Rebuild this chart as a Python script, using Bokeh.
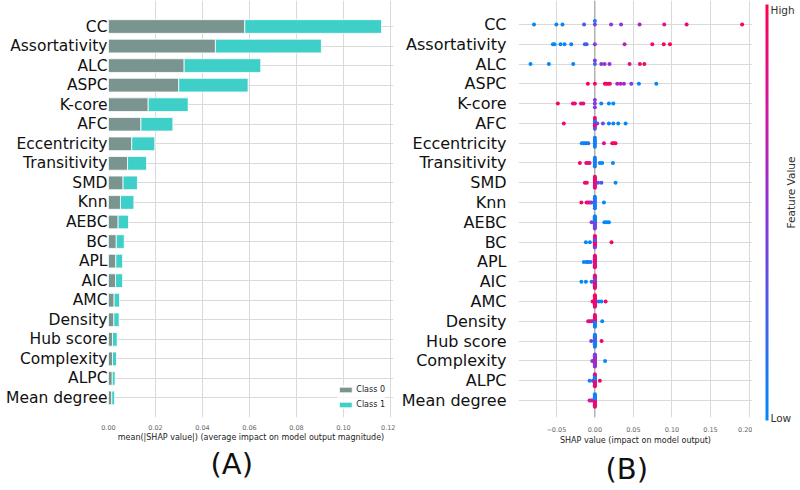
import numpy as np
from bokeh.plotting import figure
from bokeh.layouts import row
from bokeh.models import (ColumnDataSource, Range1d, FixedTicker, NumeralTickFormatter,
                          Span, Title, Label, LinearColorMapper)
from bokeh.embed import file_html
from bokeh.resources import INLINE

# ---------------- data ----------------
FEATURES = ["CC", "Assortativity", "ALC", "ASPC", "K-core", "AFC", "Eccentricity",
            "Transitivity", "SMD", "Knn", "AEBC", "BC", "APL", "AIC", "AMC", "Density",
            "Hub score", "Complexity", "ALPC", "Mean degree"]

CLASS0 = [0.0580, 0.0455, 0.0322, 0.0299, 0.0169, 0.0138, 0.0099, 0.0081, 0.0062, 0.0051,
          0.0041, 0.0033, 0.0031, 0.0030, 0.0024, 0.0023, 0.0017, 0.0017, 0.0016, 0.0014]
CLASS1 = [0.0582, 0.0451, 0.0326, 0.0295, 0.0170, 0.0136, 0.0098, 0.0081, 0.0061, 0.0057,
          0.0044, 0.0034, 0.0029, 0.0030, 0.0023, 0.0022, 0.0020, 0.0017, 0.0012, 0.0012]
CLASS_NAMES = ["Class 0", "Class 1"]

BAR_TICKS = [0.0, 0.02, 0.04, 0.06, 0.08, 0.10, 0.12]
SWARM_TICKS = [-0.05, 0.0, 0.05, 0.10, 0.15, 0.20]
SWARM_TICK_LABELS = ["\u22120.05", "0.00", "0.05", "0.10", "0.15", "0.20"]

# SHAP values (x) and normalised feature values (colour) for each feature
SHAP_CC = [-0.079, -0.050, -0.042, -0.014, 0.0, 0.0, 0.021, 0.034, 0.058, 0.090, 0.119, 0.191]
FV_CC = [0.00, 0.02, 0.04, 0.30, 0.45, 0.05, 0.50, 0.50, 0.60, 0.80, 0.90, 1.00]

SHAP_ASSORT = [-0.0545, -0.0524, -0.0446, -0.0394, -0.0307, -0.013, -0.0108, 0.0, 0.0385,
               0.0745, 0.0893, 0.0974]
FV_ASSORT = [0.0, 0.0, 0.02, 0.02, 0.05, 0.25, 0.25, 0.45, 0.65, 0.9, 0.95, 1.0]

SHAP_ALC = [-0.0835, -0.0597, -0.0281, 0.0, 0.0, 0.0083, 0.0126, 0.019, 0.045, 0.0584, 0.0641]
FV_ALC = [0.0, 0.0, 0.05, 0.2, 0.45, 0.5, 0.5, 0.5, 0.8, 0.9, 0.95]

SHAP_ASPC = [-0.0091, 0.0, 0.013, 0.0152, 0.0174, 0.0195, 0.029, 0.0333, 0.0377, 0.0472,
             0.0571, 0.0797]
FV_ASPC = [1.0, 0.95, 0.95, 0.95, 0.9, 0.9, 0.65, 0.6, 0.6, 0.45, 0.05, 0.0]

SHAP_KCORE = [-0.048, -0.0285, -0.026, -0.018, -0.015, 0.0, 0.0, 0.0, 0.0083, 0.0182, 0.0239]
FV_KCORE = [0.95, 0.9, 0.9, 0.85, 0.85, 0.45, 0.45, 0.45, 0.05, 0.0, 0.0]

SHAP_AFC = [-0.0403, 0.0, 0.0, 0.0, 0.0, 0.0, 0.0, 0.0, 0.003, 0.0104, 0.0182, 0.0239,
            0.0303, 0.0399]
FV_AFC = [0.9, 0.45, 0.1, 0.9, 0.1, 0.9, 0.95, 0.3, 0.5, 0.35, 0.05, 0.05, 0.0, 0.0]

SHAP_ECC = [-0.017, -0.015, -0.013, -0.011, -0.0085, 0.0, 0.0, 0.0, 0.0, 0.0, 0.0,
            0.0117, 0.0225, 0.0247, 0.0268]
FV_ECC = [0.0, 0.0, 0.05, 0.05, 0.1, 0.1, 0.05, 0.05, 0.1, 0.05, 0.05, 0.8, 0.9, 0.95, 0.95]

SHAP_TRANS = [-0.0195, -0.0112, -0.009, -0.0069, 0.0, 0.0, 0.0, 0.0, 0.0, 0.0,
              0.0065, 0.0095, 0.0234]
FV_TRANS = [0.95, 0.9, 0.9, 0.85, 0.05, 0.05, 0.1, 0.05, 0.05, 0.1, 0.05, 0.0, 0.0]

SHAP_SMD = [-0.013, -0.0105, 0.0, 0.0, 0.0, 0.0, 0.0, 0.0, 0.0, 0.0, 0.0, 0.0, 0.0, 0.0,
            0.0041, 0.0085, 0.0268]
FV_SMD = [0.9, 0.9, 0.9, 0.95, 0.9, 0.85, 0.95, 0.9, 0.6, 0.9, 0.95, 0.9, 0.85, 0.9,
          0.35, 0.3, 0.0]

SHAP_KNN = [-0.0175, -0.0108, -0.0087, -0.0065, -0.0045, 0.0, 0.0, 0.0, 0.0, 0.0, 0.0,
            0.0, 0.0, 0.0, 0.0117]
FV_KNN = [0.95, 0.9, 0.9, 0.85, 0.45, 0.05, 0.1, 0.05, 0.3, 0.05, 0.1, 0.05, 0.05, 0.1, 0.0]

SHAP_AEBC = [-0.0043, 0.0, 0.0, 0.0, 0.0, 0.0, 0.0, 0.0, 0.0, 0.0, 0.0, 0.0, 0.0, 0.0,
             0.0124, 0.0152, 0.0182]
FV_AEBC = [0.45, 0.4, 0.1, 0.45, 0.05, 0.4, 0.1, 0.45, 0.05, 0.3, 0.1, 0.4, 0.05, 0.45,
           0.05, 0.0, 0.0]

SHAP_BC = [-0.0117, -0.0065, 0.0, 0.0, 0.0, 0.0, 0.0, 0.0, 0.0, 0.0, 0.0, 0.0, 0.0, 0.0,
           0.0, 0.0, 0.0216]
FV_BC = [0.05, 0.0, 0.9, 0.45, 0.95, 0.4, 0.9, 0.1, 0.95, 0.45, 0.9, 0.5, 0.95, 0.9, 0.4,
         0.9, 0.95]

SHAP_APL = [-0.0143, -0.0108, -0.0087, -0.0055, 0.0, 0.0, 0.0, 0.0, 0.0, 0.0, 0.0, 0.0,
            0.0, 0.0, 0.0, 0.0, 0.0, 0.0]
FV_APL = [0.0, 0.05, 0.05, 0.1, 0.9, 0.95, 0.85, 0.9, 0.5, 0.95, 0.9, 0.9, 0.85, 0.95,
          0.9, 0.6, 0.9, 0.95]

SHAP_AIC = [-0.0175, -0.0117, -0.0043, 0.0, 0.0, 0.0, 0.0, 0.0, 0.0, 0.0, 0.0, 0.0, 0.0,
            0.0, 0.0, 0.0, 0.0, 0.0]
FV_AIC = [0.0, 0.05, 0.1, 0.9, 0.45, 0.95, 0.4, 0.9, 0.5, 0.95, 0.45, 0.9, 0.4, 0.95,
          0.9, 0.45, 0.9, 0.95]

SHAP_AMC = [-0.003, 0.0, 0.0, 0.0, 0.0, 0.0, 0.0, 0.0, 0.0, 0.0, 0.0, 0.0, 0.0, 0.0, 0.0,
            0.0048, 0.0085, 0.0139]
FV_AMC = [0.95, 0.9, 0.95, 0.9, 0.85, 0.95, 0.9, 0.9, 0.95, 0.85, 0.9, 0.95, 0.9, 0.9,
          0.95, 0.05, 0.0, 0.95]

SHAP_DENSITY = [-0.0087, -0.0065, -0.0043, -0.0022, 0.0, 0.0, 0.0, 0.0, 0.0, 0.0, 0.0,
                0.0, 0.0, 0.0, 0.0, 0.0, 0.0, 0.0, 0.0095]
FV_DENSITY = [0.9, 0.85, 0.8, 0.6, 0.05, 0.9, 0.1, 0.95, 0.05, 0.85, 0.1, 0.9, 0.05,
              0.95, 0.1, 0.9, 0.05, 0.9, 0.0]

SHAP_HUB = [-0.0048, 0.0, 0.0, 0.0, 0.0, 0.0, 0.0, 0.0, 0.0, 0.0, 0.0, 0.0, 0.0, 0.0,
            0.0, 0.0, 0.0, 0.0087]
FV_HUB = [0.45, 0.05, 0.1, 0.05, 0.4, 0.05, 0.1, 0.05, 0.1, 0.05, 0.45, 0.05, 0.1, 0.05,
          0.05, 0.1, 0.05, 0.95]

SHAP_COMPLEX = [-0.0034, 0.0, 0.0, 0.0, 0.0, 0.0, 0.0, 0.0, 0.0, 0.0, 0.0, 0.0, 0.0,
                0.0, 0.0, 0.0, 0.0, 0.0132]
FV_COMPLEX = [0.45, 0.5, 0.8, 0.45, 0.85, 0.5, 0.4, 0.8, 0.45, 0.5, 0.85, 0.45, 0.5,
              0.8, 0.4, 0.5, 0.45, 0.0]

SHAP_ALPC = [-0.0069, -0.0026, 0.0, 0.0, 0.0, 0.0, 0.0, 0.0, 0.0, 0.0, 0.0, 0.0, 0.0,
             0.0, 0.0, 0.0, 0.0, 0.0, 0.0065]
FV_ALPC = [0.05, 0.2, 0.85, 0.05, 0.9, 0.05, 0.85, 0.1, 0.9, 0.05, 0.85, 0.05, 0.9, 0.1,
           0.85, 0.05, 0.9, 0.85, 0.95]

SHAP_MEANDEG = [-0.0069, -0.0048, -0.0030, 0.0, 0.0, 0.0, 0.0, 0.0, 0.0, 0.0, 0.0, 0.0,
                0.0, 0.0, 0.0, 0.0, 0.0, 0.0, 0.0, 0.0]
FV_MEANDEG = [0.8, 0.6, 0.75, 0.5, 0.05, 0.85, 0.05, 0.9, 0.05, 0.85, 0.1, 0.9, 0.05,
              0.85, 0.05, 0.9, 0.1, 0.85, 0.05, 0.9]

SHAP_ROWS = [SHAP_CC, SHAP_ASSORT, SHAP_ALC, SHAP_ASPC, SHAP_KCORE, SHAP_AFC, SHAP_ECC,
             SHAP_TRANS, SHAP_SMD, SHAP_KNN, SHAP_AEBC, SHAP_BC, SHAP_APL, SHAP_AIC,
             SHAP_AMC, SHAP_DENSITY, SHAP_HUB, SHAP_COMPLEX, SHAP_ALPC, SHAP_MEANDEG]
FV_ROWS = [FV_CC, FV_ASSORT, FV_ALC, FV_ASPC, FV_KCORE, FV_AFC, FV_ECC, FV_TRANS, FV_SMD,
           FV_KNN, FV_AEBC, FV_BC, FV_APL, FV_AIC, FV_AMC, FV_DENSITY, FV_HUB, FV_COMPLEX,
           FV_ALPC, FV_MEANDEG]

# ---------------- style helpers ----------------
FONT = "DejaVu Sans"
COL0, COL1 = "#7a9490", "#3dcfc8"
GRID = "#dadada"


def shap_cmap(t):
    anchors = [(0.0, (0, 138, 250)), (0.5, (140, 52, 218)), (0.75, (212, 22, 160)),
               (1.0, (255, 0, 82))]
    t = min(max(t, 0.0), 1.0)
    for (t0, c0), (t1, c1) in zip(anchors[:-1], anchors[1:]):
        if t <= t1:
            f = (t - t0) / (t1 - t0)
            rgb = [int(round(a + (b - a) * f)) for a, b in zip(c0, c1)]
            return "#%02x%02x%02x" % tuple(rgb)
    return "#ff0052"


def swarm_offsets(vals, nbins=100, row_height=0.4):
    vals = np.asarray(vals, dtype=float)
    quant = np.round(nbins * (vals - vals.min()) / (vals.max() - vals.min() + 1e-8))
    order = np.argsort(quant, kind="stable")
    ys = np.zeros(len(vals))
    layer, last = 0, None
    for i in order:
        if quant[i] != last:
            layer = 0
        ys[i] = np.ceil(layer / 2) * ((layer % 2) * 2 - 1)
        layer += 1
        last = quant[i]
    ys *= 0.9 * (row_height / np.max(ys + 1))
    return ys


n = len(FEATURES)
ypos = [n - 1 - i for i in range(n)]
ylabels = {y: f for y, f in zip(ypos, FEATURES)}


def style_axes(p, label_size, standoff, tick_standoff, label_standoff):
    xa, ya = p.xaxis[0], p.yaxis[0]
    for ax in (xa, ya):
        ax.axis_line_color = None
        ax.major_tick_line_color = None
        ax.minor_tick_line_color = None
        ax.major_tick_out = 0
        ax.major_tick_in = 0
        ax.major_label_text_font = FONT
        ax.axis_label_text_font = FONT
    ya.ticker = FixedTicker(ticks=ypos)
    p.ygrid.ticker = ya.ticker
    ya.major_label_overrides = ylabels
    ya.major_label_text_font_size = label_size
    ya.major_label_text_color = "#111111"
    ya.major_label_standoff = standoff
    xa.major_label_text_font_size = "6.5px"
    xa.major_label_text_color = "#666666"
    xa.major_label_standoff = tick_standoff
    xa.axis_label_text_font_size = "8px"
    xa.axis_label_text_font_style = "normal"
    xa.axis_label_text_color = "#222222"
    xa.axis_label_standoff = label_standoff
    p.outline_line_color = None
    p.xgrid.grid_line_color = GRID
    p.ygrid.grid_line_color = GRID
    p.background_fill_color = "white"
    p.border_fill_color = "white"


# ---------------- (A) bar chart ----------------
src_bar = ColumnDataSource(dict(y=ypos, c0=CLASS0, c1=CLASS1))
pA = figure(frame_width=285, frame_height=417, x_range=Range1d(0, 0.1213),
            y_range=Range1d(-1, 20.33), output_backend="svg", toolbar_location=None,
            min_border_left=108, min_border_right=2, min_border_top=0, min_border_bottom=0)
pA.hbar_stack(["c0", "c1"], y="y", height=0.7, color=[COL0, COL1], line_color="white",
              line_width=0.8, source=src_bar, legend_label=CLASS_NAMES)
style_axes(pA, "15.5px", 1, 7, 0)
pA.xaxis[0].ticker = FixedTicker(ticks=BAR_TICKS)
pA.xgrid.ticker = pA.xaxis[0].ticker
pA.xaxis[0].formatter = NumeralTickFormatter(format="0.00")
pA.xaxis[0].axis_label = "mean(|SHAP value|) (average impact on model output magnitude)"
lg = pA.legend[0]
lg.location = "bottom_right"
lg.label_text_font = FONT
lg.label_text_font_size = "8px"
lg.label_text_color = "#222222"
lg.glyph_width = 16
lg.glyph_height = 7
lg.label_height = 8
lg.spacing = 6
lg.padding = 3
lg.margin = 8
lg.label_standoff = 3
lg.border_line_color = None
lg.background_fill_alpha = 0.8
pA.add_layout(Title(text="(A)", align="left", offset=102, text_font=FONT,
                    text_font_size="29px", text_font_style="normal", text_color="#111111",
                    standoff=1), "below")

# ---------------- (B) beeswarm ----------------
xs, ys, cols = [], [], []
for r, (sv, fv) in enumerate(zip(SHAP_ROWS, FV_ROWS)):
    off = swarm_offsets(sv)
    for v, f, o in zip(sv, fv, off):
        xs.append(v)
        ys.append(ypos[r] + o)
        cols.append(shap_cmap(f))
src_sw = ColumnDataSource(dict(x=xs, y=ys, c=cols))

pB = figure(frame_width=234, frame_height=417, x_range=Range1d(-0.0991, 0.2045),
            y_range=Range1d(-0.86, 20.21), output_backend="svg", toolbar_location=None,
            min_border_left=123, min_border_right=0, min_border_top=0, min_border_bottom=0)
style_axes(pB, "16px", 12, 9, 1)
pB.xaxis[0].ticker = FixedTicker(ticks=SWARM_TICKS)
pB.xgrid.ticker = pB.xaxis[0].ticker
pB.xaxis[0].major_label_overrides = {t: s for t, s in zip(SWARM_TICKS, SWARM_TICK_LABELS)}
pB.xaxis[0].axis_label = "SHAP value (impact on model output)"
pB.add_layout(Span(location=0, dimension="height", line_color="#999999", line_width=1,
                   level="underlay"))
pB.scatter("x", "y", source=src_sw, size=4, fill_color="c", line_color=None)
pB.add_layout(Title(text="(B)", align="left", offset=87, text_font=FONT,
                    text_font_size="29px", text_font_style="normal", text_color="#111111",
                    standoff=5), "below")

# ---------------- colour bar ----------------
pC = figure(frame_width=46, frame_height=424, x_range=Range1d(0, 46), y_range=Range1d(0, 424),
            output_backend="svg", toolbar_location=None, x_axis_type=None, y_axis_type=None,
            min_border=0)
pC.grid.visible = False
pC.outline_line_color = None
grad = np.linspace(0, 1, 256)
mapper = LinearColorMapper(palette=[shap_cmap(t) for t in grad], low=0, high=1)
pC.image(image=[grad.reshape(-1, 1)], x=13, y=4, dw=3, dh=416, color_mapper=mapper)
for txt, yy in (("High", 415), ("Low", 7)):
    pC.add_layout(Label(x=18, y=yy, text=txt, text_baseline="middle", text_font=FONT,
                        text_font_size="10.5px", text_color="#333333"))
pC.add_layout(Label(x=38, y=232, text="Feature Value", angle=np.pi / 2, text_align="center",
                    text_baseline="middle", text_font=FONT, text_font_size="10.5px",
                    text_color="#333333"))

layout = row(pA, pB, pC)
open("out.html", "w").write(file_html(layout, INLINE))
